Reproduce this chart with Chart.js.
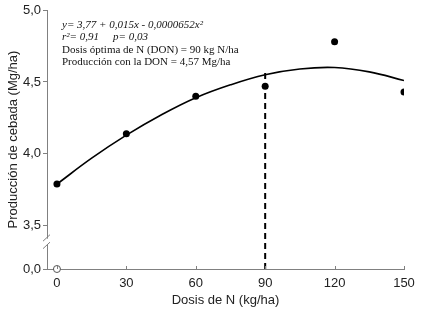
<!DOCTYPE html>
<html>
<head>
<meta charset="utf-8">
<script src="https://cdn.jsdelivr.net/npm/chart.js@4"></script>
<style>
  html, body { margin:0; padding:0; background:#fff; }
  #wrap { width:439px; height:319px; }
</style>
</head>
<body>
<div id="wrap"><canvas id="c" width="439" height="319"></canvas></div>
<script>
// ---------- datos ----------
const doses      = [0, 30, 60, 90, 120, 150];
const yields     = [3.79, 4.14, 4.40, 4.47, 4.78, 4.43];
const zeroDose   = [0];
const zeroYield  = [0];
const curveX     = [0, 15, 30, 45, 60, 75, 90, 105, 120, 135, 150];
const curveY     = [3.79, 3.97, 4.13, 4.27, 4.39, 4.48, 4.55, 4.59, 4.60, 4.57, 4.51];
const donX       = [90, 90];
const donY       = [0, 4.57];
const xTicks     = [0, 30, 60, 90, 120, 150];
const yTicks     = [0, 3.5, 4.0, 4.5, 5.0];
const notes      = [
  "y= 3,77 + 0,015x - 0,0000652x\u00b2",
  "r\u00b2= 0,91",
  "Dosis \u00f3ptima de N (DON) = 90 kg N/ha",
  "Producci\u00f3n con la DON = 4,57 Mg/ha"
];

// eje cortado: el 0 se dibuja justo debajo del corte
const BREAK_FLOOR = 3.2;
const yPlot = v => (v < 1 ? BREAK_FLOOR + v : v);
const pts = (xs, ys) => xs.map((x, i) => ({ x, y: yPlot(ys[i]) }));
const fmt = v => v.toFixed(1).replace(".", ",");

const SANS  = "'Liberation Sans', Arial, sans-serif";
const SERIF = "'Liberation Serif', 'Times New Roman', serif";
const AXIS  = "#808080";

/* ---------- plugin: ticks x hacia dentro, corte del eje y, textos ---------- */
const extras = {
  id: "extras",
  afterDraw(chart) {
    const { ctx, chartArea: a, scales: { x, y } } = chart;
    ctx.save();
    // ticks x hacia arriba
    ctx.strokeStyle = AXIS; ctx.lineWidth = 1;
    xTicks.forEach(v => {
      const px = Math.round(x.getPixelForValue(v)) + 0.5;
      ctx.beginPath(); ctx.moveTo(px, a.bottom); ctx.lineTo(px, a.bottom - 3); ctx.stroke();
    });
    // corte del eje y
    const yb = y.getPixelForValue(3.39);
    ctx.fillStyle = "#fff";
    ctx.fillRect(a.left - 2, yb - 3, 4, 6);
    ctx.beginPath();
    ctx.moveTo(a.left - 4, yb - 0.5); ctx.lineTo(a.left + 3, yb - 7);
    ctx.moveTo(a.left - 4, yb + 7);   ctx.lineTo(a.left + 3, yb + 0.5);
    ctx.stroke();
    // ecuación y textos
    ctx.fillStyle = "#111";
    ctx.textBaseline = "middle";
    const tx = a.left + 15;
    ctx.font = "italic 11px " + SERIF;
    ctx.fillText(notes[0], tx, 25);
    ctx.fillText(notes[1], tx, 37);
    ctx.fillText("p= 0,03", tx + 51, 37);
    ctx.font = "11px " + SERIF;
    ctx.fillText(notes[2], tx, 50);
    ctx.fillText(notes[3], tx, 62);
    ctx.restore();
  }
};

new Chart(document.getElementById("c"), {
  type: "scatter",
  data: {
    datasets: [
      { type: "line", data: pts(curveX, curveY), borderColor: "#000", borderWidth: 1.6,
        pointRadius: 0, tension: 0.4, fill: false },
      { type: "line", data: pts(donX, donY), borderColor: "#000", borderWidth: 2,
        borderDash: [6, 4], pointRadius: 0, fill: false },
      { data: pts(doses, yields), pointRadius: 3.5, pointBackgroundColor: "#000",
        pointBorderColor: "#000", pointBorderWidth: 0 },
      { data: pts(zeroDose, zeroYield), pointRadius: 3.5, pointBackgroundColor: "#fff",
        pointBorderColor: "#555", pointBorderWidth: 1, clip: false }
    ]
  },
  options: {
    responsive: false,
    animation: false,
    layout: { padding: { top: 10, right: 35, left: 0, bottom: 7 } },
    plugins: { legend: { display: false }, tooltip: { enabled: false } },
    scales: {
      x: {
        type: "linear", min: -4.3, max: 150,
        afterBuildTicks: s => { s.ticks = xTicks.map(v => ({ value: v })); },
        afterFit: s => { s.height = 43; },
        grid: { drawOnChartArea: false, drawTicks: false },
        border: { color: AXIS, width: 1 },
        ticks: { color: "#222", padding: 7, font: { family: SANS, size: 13 } },
        title: { display: true, text: "Dosis de N (kg/ha)", color: "#222",
                 font: { family: SANS, size: 13 }, padding: { top: 2 } }
      },
      y: {
        type: "linear", min: BREAK_FLOOR, max: 5.0,
        afterBuildTicks: s => { s.ticks = yTicks.map(v => ({ value: yPlot(v) })); },
        afterFit: s => { s.width = 47; },
        grid: { drawOnChartArea: false, tickLength: 4, color: AXIS },
        border: { color: AXIS, width: 1 },
        ticks: { color: "#222", padding: 2, font: { family: SANS, size: 13 } ,
                 callback: v => fmt(v < 3.4 ? 0 : v) },
        title: { display: true, text: "Producci\u00f3n de cebada (Mg/ha)", color: "#222",
                 font: { family: SANS, size: 13 }, padding: { top: 6, bottom: 0 } }
      }
    }
  },
  plugins: [extras]
});
</script>
</body>
</html>
